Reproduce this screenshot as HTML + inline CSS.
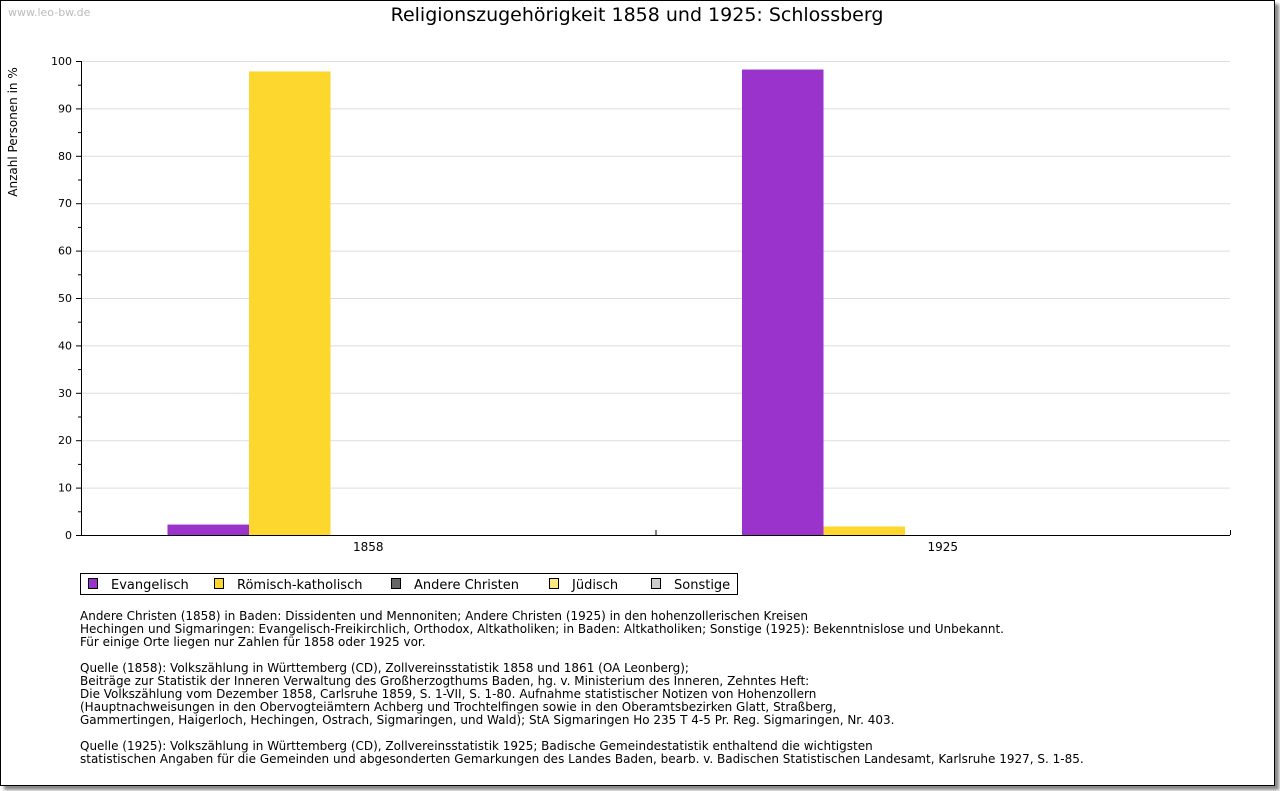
<!DOCTYPE html>
<html><head><meta charset="utf-8"><style>
body{margin:0;background:#fff;width:1280px;height:791px;overflow:hidden;font-family:"DejaVu Sans","Liberation Sans",sans-serif;}
#frame{position:absolute;left:0;top:0;width:1273px;height:784px;border:1px solid #000;box-shadow:4px 4px 3px #888;background:#fff;}
.t{position:absolute;font-size:12px;color:#000;white-space:pre;line-height:13px;}
</style></head><body>
<div id="frame"></div>
<svg width="1280" height="791" style="position:absolute;left:0;top:0" id="chart">
<text x="8" y="16" font-size="11" fill="#bbb" font-family="DejaVu Sans, sans-serif">www.leo-bw.de</text>
<text x="637" y="21" font-size="19" text-anchor="middle" font-family="DejaVu Sans, sans-serif">Religionszugehörigkeit 1858 und 1925: Schlossberg</text>
<text transform="translate(17,132) rotate(-90)" font-size="12" text-anchor="middle" font-family="DejaVu Sans, sans-serif">Anzahl Personen in %</text>
<g id="grid"></g><g id="bars"></g><g id="axes"></g>
<g>
<rect x="80.5" y="573.5" width="657" height="21" fill="#fff" stroke="#000"/>
<g id="legend"></g>
</g>
</svg>
<div class="t" style="left:80px;top:610px">Andere Christen (1858) in Baden: Dissidenten und Mennoniten; Andere Christen (1925) in den hohenzollerischen Kreisen
Hechingen und Sigmaringen: Evangelisch-Freikirchlich, Orthodox, Altkatholiken; in Baden: Altkatholiken; Sonstige (1925): Bekenntnislose und Unbekannt.
Für einige Orte liegen nur Zahlen für 1858 oder 1925 vor.</div>
<div class="t" style="left:80px;top:662px">Quelle (1858): Volkszählung in Württemberg (CD), Zollvereinsstatistik 1858 und 1861 (OA Leonberg);
Beiträge zur Statistik der Inneren Verwaltung des Großherzogthums Baden, hg. v. Ministerium des Inneren, Zehntes Heft:
Die Volkszählung vom Dezember 1858, Carlsruhe 1859, S. 1-VII, S. 1-80. Aufnahme statistischer Notizen von Hohenzollern
(Hauptnachweisungen in den Obervogteiämtern Achberg und Trochtelfingen sowie in den Oberamtsbezirken Glatt, Straßberg,
Gammertingen, Haigerloch, Hechingen, Ostrach, Sigmaringen, und Wald); StA Sigmaringen Ho 235 T 4-5 Pr. Reg. Sigmaringen, Nr. 403.</div>
<div class="t" style="left:80px;top:740px">Quelle (1925): Volkszählung in Württemberg (CD), Zollvereinsstatistik 1925; Badische Gemeindestatistik enthaltend die wichtigsten
statistischen Angaben für die Gemeinden und abgesonderten Gemarkungen des Landes Baden, bearb. v. Badischen Statistischen Landesamt, Karlsruhe 1927, S. 1-85.</div>
<script>
const categories=["1858","1925"];
const seriesNames=["Evangelisch","Römisch-katholisch","Andere Christen","Jüdisch","Sonstige"];
const seriesColors=["#9933cc","#fdd72e","#666666","#ffe680","#cccccc"];
const evangelisch=[2.2,98.2];
const katholisch=[97.8,1.8];
const andere=[0,0];
const juedisch=[0,0];
const sonstige=[0,0];
const yTicks=[0,10,20,30,40,50,60,70,80,90,100];
const series=[evangelisch,katholisch,andere,juedisch,sonstige];
const NS="http://www.w3.org/2000/svg";
const X0=81,X1=1230,Y0=535,Y1=61;
const y=v=>Y0-(v/100)*(Y0-Y1);
const gw=(X1-X0)/categories.length;
const bw=81.5;
const bx=(c,s)=>X0+3+gw*c+(gw-bw*seriesNames.length)/2+bw*s;
function mk(tag,a,parent){const e=document.createElementNS(NS,tag);for(const k in a)e.setAttribute(k,a[k]);document.getElementById(parent).appendChild(e);return e;}
yTicks.forEach(t=>{
 if(t>0){const l=mk('line',{x1:X0,x2:X1,y1:y(t)+.5,y2:y(t)+.5,stroke:'#ddd'},'grid');
 
 }
 const k=mk('line',{x1:X0-5,x2:X0,y1:y(t)+.5,y2:y(t)+.5,stroke:'#000'},'axes');
 
 
 if(t<100){const m=mk('line',{x1:X0-3,x2:X0,y1:y(t+5)+.5,y2:y(t+5)+.5,stroke:'#000'},'axes');
 
 }
 const tx=mk('text',{x:X0-9,y:y(t)+4,'font-size':11,'text-anchor':'end'},'axes');tx.textContent=t;
 
 
});
series.forEach((vals,s)=>vals.forEach((v,c)=>{
 if(v<=0)return;
 const r=mk('rect',{x:bx(c,s),y:y(v),width:bw,height:Y0-y(v),fill:seriesColors[s]},'bars');
 
 
}));
const ax=mk('line',{x1:X0+.5,x2:X0+.5,y1:Y1,y2:Y0,stroke:'#000'},'axes');


const xa=mk('line',{x1:X0,x2:X1,y1:Y0+.5,y2:Y0+.5,stroke:'#000'},'axes');


for(let i=1;i<=categories.length;i++){const k=mk('line',{x1:X0+gw*i+.5,x2:X0+gw*i+.5,y1:Y0-5,y2:Y0,stroke:'#000'},'axes');
 
 }
categories.forEach((c,i)=>{const t=mk('text',{x:X0+gw*(i+.5),y:Y0+16,'font-size':12,'text-anchor':'middle'},'axes');t.textContent=c;
 
 });
const lx=[88,214,391,549,651];
seriesNames.forEach((n,i)=>{
 const r=mk('rect',{x:lx[i]+.5,y:578.5,width:9,height:10,fill:seriesColors[i],stroke:'#000'},'legend');
 
 
 const t=mk('text',{x:lx[i]+23,y:589,'font-size':13},'legend');t.textContent=n;
 
 
});
</script>
</body></html>
